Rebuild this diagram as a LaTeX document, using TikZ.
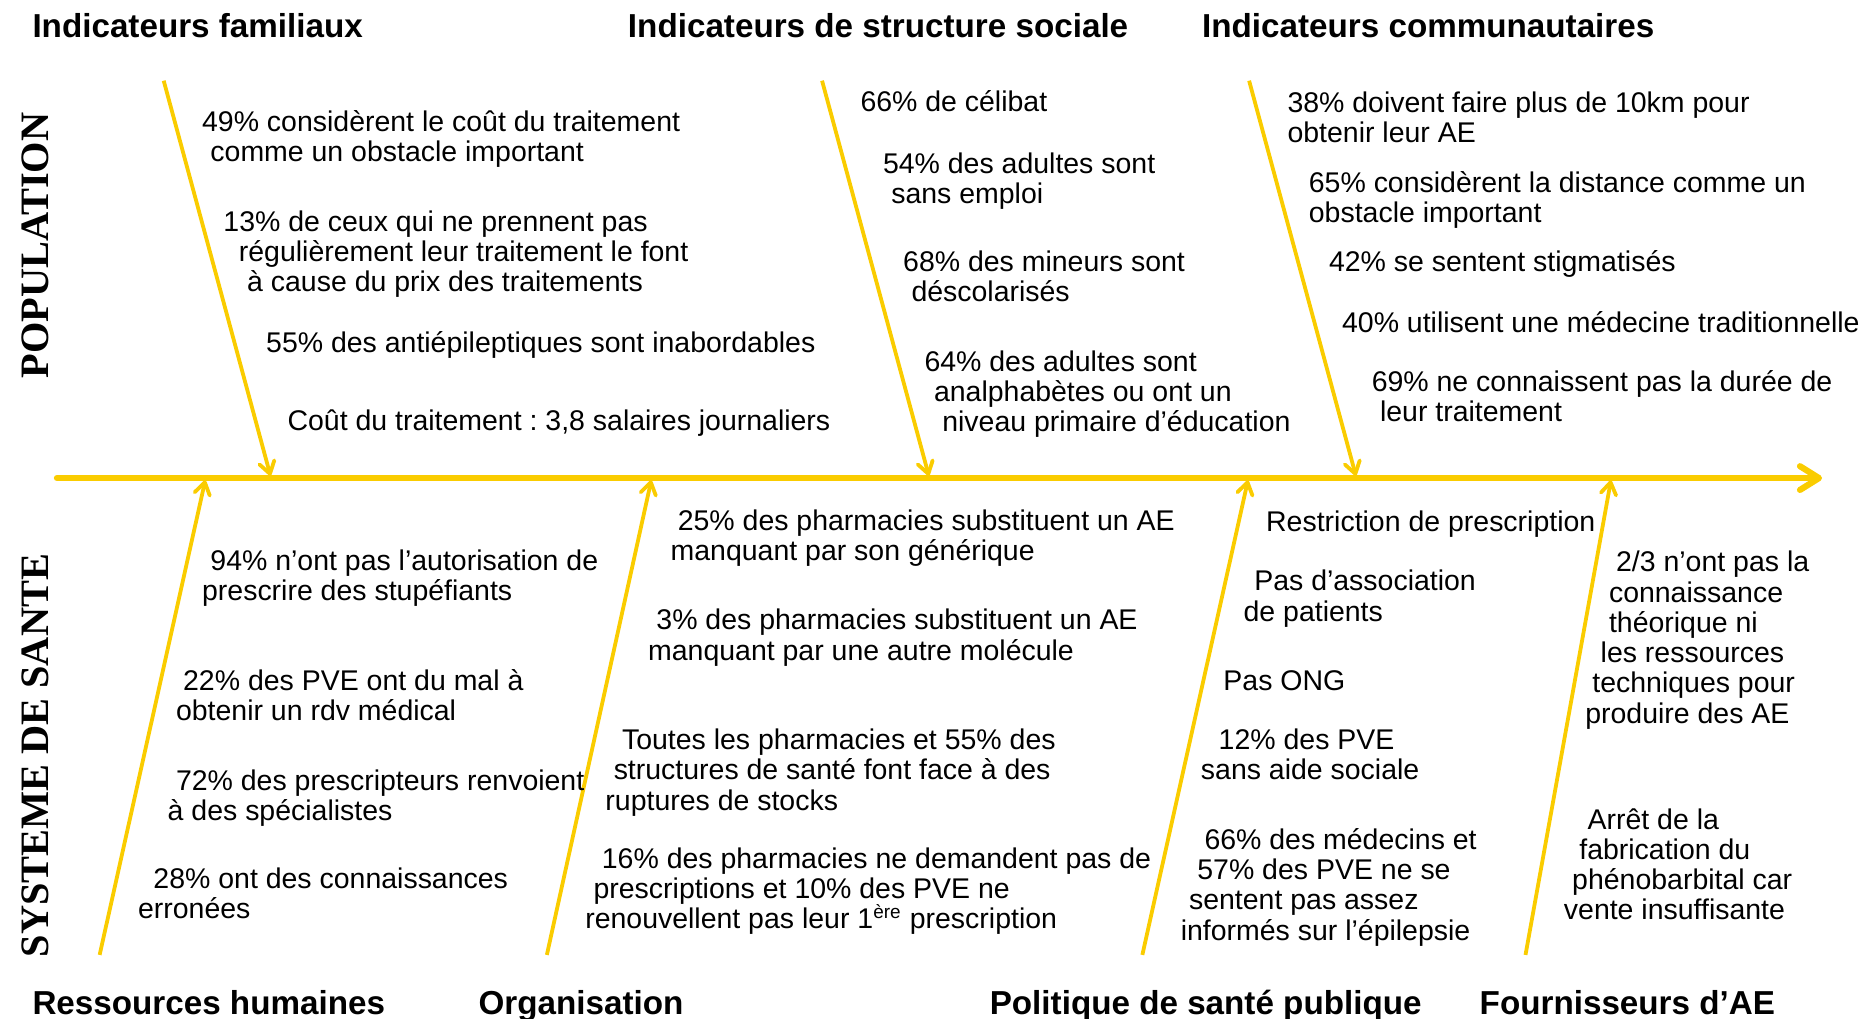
\documentclass[tikz,border=0pt]{standalone}
\usepackage{fontspec}
\setmainfont{Liberation Sans}
\newfontfamily\sidefont{Liberation Serif}
\usepackage{tikz}
\usetikzlibrary{arrows.meta}
\definecolor{fishyellow}{HTML}{FACC00}
\newcommand{\indentpx}[1]{\hspace*{#1\dimexpr0.5pt\relax}}
\tikzset{
  spine/.style={line width=2.6pt, draw=fishyellow, line cap=round,
    -{Straight Barb[length=8pt,width=10pt,round]}},
  bone/.style={line width=1.6pt, draw=fishyellow,
    -{Straight Barb[length=5pt,width=6.5pt,round]}},
  % multi-line nodes sit on the baseline of their last line
  fact/.style={font=\fontsize{12}{12.75}\selectfont, align=left,
    anchor=base west, inner sep=0pt},
  heading/.style={font=\fontsize{14}{16}\selectfont\bfseries,
    anchor=base west, inner sep=0pt},
  sidelabel/.style={font=\sidefont\bfseries\fontsize{17}{20}\selectfont,
    rotate=90, inner sep=0pt}
}
\begin{document}
\begin{tikzpicture}[x=0.5pt,y=-0.5pt]
    \useasboundingbox (0,0) rectangle (1568,859);

    % spine and bones
    \coordinate (tail) at (48,403);
    \coordinate (head) at (1536,403);
    \coordinate (famT) at (138,68);   \coordinate (famE) at (228,401);
    \coordinate (socT) at (693,68);   \coordinate (socE) at (783,401);
    \coordinate (comT) at (1053,68);  \coordinate (comE) at (1143,401);
    \coordinate (rhB) at (84,805);    \coordinate (rhE) at (173,405);
    \coordinate (orgB) at (461,805);  \coordinate (orgE) at (549,405);
    \coordinate (polB) at (963,805);  \coordinate (polE) at (1052,405);
    \coordinate (fouB) at (1286,805); \coordinate (fouE) at (1358,405);

    \draw[spine] (tail) -- (head);
    \foreach \a/\b in {famT/famE,socT/socE,comT/comE,rhB/rhE,orgB/orgE,polB/polE,fouB/fouE}
        \draw[bone] (\a) -- (\b);

    % side labels
    \node[sidelabel] (pop) at (30,207) {POPULATION};
    \node[sidelabel] (sys) at (30,637) {SYSTEME DE SANTE};

    % headings
    \node[heading] (hfam) at (27,32) {Indicateurs familiaux};
    \node[heading] (hsoc) at (529,32) {Indicateurs de structure sociale};
    \node[heading] (hcom) at (1013,32) {Indicateurs communautaires};
    \node[heading] (hrh) at (27,855) {Ressources humaines};
    \node[heading] (horg) at (403,855) {Organisation};
    \node[heading] (hpol) at (834,855) {Politique de santé publique};
    \node[heading] (hfou) at (1247,855) {Fournisseurs d’AE};

    % indicateurs familiaux
    \node[fact] (fa1) at (170,136.5)
        {49\% considèrent le coût du traitement\\\indentpx{7}comme un obstacle important};
    \node[fact] (fa2) at (188,246)
        {13\% de ceux qui ne prennent pas\\\indentpx{13}régulièrement leur traitement le font\\\indentpx{20}à cause du prix des traitements};
    \node[fact] (fa3) at (224,297) {55\% des antiépileptiques sont inabordables};
    \node[fact] (fa4) at (242,363) {Coût du traitement :\ 3,8 salaires journaliers};

    % indicateurs de structure sociale
    \node[fact] (st1) at (725,94) {66\% de célibat};
    \node[fact] (st2) at (744,171.5) {54\% des adultes sont\\\indentpx{7}sans emploi};
    \node[fact] (st3) at (761,254.5) {68\% des mineurs sont\\\indentpx{7}déscolarisés};
    \node[fact] (st4) at (779,364)
        {64\% des adultes sont\\\indentpx{8}analphabètes ou ont un\\\indentpx{15}niveau primaire d’éducation};

    % indicateurs communautaires
    \node[fact] (co1) at (1085,120.5) {38\% doivent faire plus de 10km pour\\obtenir leur AE};
    \node[fact] (co2) at (1103,187.5) {65\% considèrent la distance comme un\\obstacle important};
    \node[fact] (co3) at (1120,229) {42\% se sentent stigmatisés};
    \node[fact] (co4) at (1131,280) {40\% utilisent une médecine traditionnelle};
    \node[fact] (co5) at (1156,355.5) {69\% ne connaissent pas la durée de\\\indentpx{7}leur traitement};

    % ressources humaines
    \node[fact] (rh1) at (170,506.5) {\indentpx{7}94\% n’ont pas l’autorisation de\\prescrire des stupéfiants};
    \node[fact] (rh2) at (148,607.5) {\indentpx{6}22\% des PVE ont du mal à\\obtenir un rdv médical};
    \node[fact] (rh3) at (141,691.5) {\indentpx{7}72\% des prescripteurs renvoient\\à des spécialistes};
    \node[fact] (rh4) at (116,774.5) {\indentpx{13}28\% ont des connaissances\\erronées};

    % organisation
    \node[fact] (or1) at (565,472.5) {\indentpx{6}25\% des pharmacies substituent un AE\\manquant par son générique};
    \node[fact] (or2) at (546,556.5) {\indentpx{7}3\% des pharmacies substituent un AE\\manquant par une autre molécule};
    \node[fact] (or3) at (510,683)
        {\indentpx{14}Toutes les pharmacies et 55\% des\\\indentpx{7}structures de santé font face à des\\ruptures de stocks};
    \node[fact] (or4) at (493,783)
        {\indentpx{14}16\% des pharmacies ne demandent pas de\\\indentpx{7}prescriptions et 10\% des PVE ne\\renouvellent pas leur 1\textsuperscript{ère} prescription};

    % politique de sante publique
    \node[fact] (po1) at (1067,448) {Restriction de prescription};
    \node[fact] (po2) at (1048,523.5) {\indentpx{9}Pas d’association\\de patients};
    \node[fact] (po3) at (1031,582) {Pas ONG};
    \node[fact] (po4) at (1012,657.5) {\indentpx{15}12\% des PVE\\sans aide sociale};
    \node[fact] (po5) at (995,792.5)
        {\indentpx{20}66\% des médecins et\\\indentpx{14}57\% des PVE ne se\\\indentpx{7}sentent pas assez\\informés sur l’épilepsie};

    % fournisseurs d'AE
    \node[fact] (fo1) at (1336,609.5)
        {\indentpx{26}2/3 n’ont pas la\\\indentpx{20}connaissance\\\indentpx{20}théorique ni\\\indentpx{13}les ressources\\\indentpx{6}techniques pour\\produire des AE};
    \node[fact] (fo2) at (1318,775.5)
        {\indentpx{20}Arrêt de la\\\indentpx{13}fabrication du\\\indentpx{7}phénobarbital car\\vente insuffisante};
\end{tikzpicture}
\end{document}
